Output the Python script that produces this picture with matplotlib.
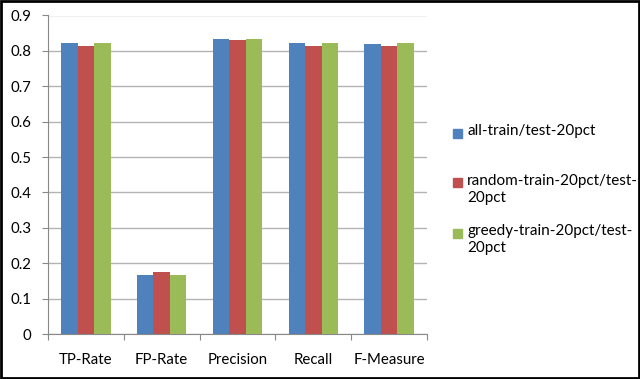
import numpy as np
import matplotlib.pyplot as plt
from matplotlib.patches import Rectangle

plt.rcParams["font.family"] = ["Lato", "DejaVu Sans"]
plt.rcParams["font.size"] = 10.8

# data
categories = ["TP-Rate", "FP-Rate", "Precision", "Recall", "F-Measure"]
series_names = ["all-train/test-20pct",
                "random-train-20pct/test-\n20pct",
                "greedy-train-20pct/test-\n20pct"]
all_train = [0.822, 0.166, 0.834, 0.822, 0.819]
random_train = [0.815, 0.175, 0.830, 0.815, 0.814]
greedy_train = [0.822, 0.166, 0.834, 0.822, 0.822]
colors = ["#4f81bd", "#c0504d", "#9bbb59"]
yticks = [0, 0.1, 0.2, 0.3, 0.4, 0.5, 0.6, 0.7, 0.8, 0.9]

W, H = 640, 379
fig = plt.figure(figsize=(W/100, H/100), dpi=100)
ax = fig.add_axes([48/W, 1 - 334/H, (427-48)/W, (334-15.5)/H])

x = np.arange(len(categories))
w = 0.217
for i, vals in enumerate([all_train, random_train, greedy_train]):
    ax.bar(x + (i - 1) * w, vals, width=w, color=colors[i], zorder=3)

ax.set_xlim(-0.5, len(categories) - 0.5)
ax.set_ylim(0, 0.9)
ax.set_yticks(yticks)
ax.set_yticklabels(["0" if v == 0 else f"{v:.1f}" for v in yticks])
ax.yaxis.grid(True, color="#b3b3b3", linewidth=1, zorder=0)

# category labels in the middle, tick marks on the boundaries
ax.set_xticks(np.arange(len(categories) + 1) - 0.5)
ax.set_xticklabels([])
ax.set_xticks(x, minor=True)
ax.set_xticklabels(categories, minor=True)
ax.tick_params(axis="x", which="minor", length=0, pad=13.5)
ax.tick_params(axis="x", which="major", length=4, color="#888888")
ax.tick_params(axis="y", length=4, color="#888888", pad=8)

for s in ["top", "right"]:
    ax.spines[s].set_visible(False)
for s in ["left", "bottom"]:
    ax.spines[s].set_color("#888888")

# legend like excel: square on the first line, text wraps below
for i, name in enumerate(series_names):
    yc = 133 + 50 * i
    fig.patches.append(Rectangle((453/W, 1 - (yc + 4.5)/H), 9/W, 9/H,
                                 transform=fig.transFigure, color=colors[i]))
    fig.text(467/W, 1 - (yc - 9)/H, name, ha="left", va="top",
             fontsize=11, linespacing=1.3)

# outer frame
fig.patches.append(Rectangle((0.002, 0.003), 0.996, 0.994, transform=fig.transFigure,
                             fill=False, edgecolor="black", linewidth=2))

fig.savefig("out.png", dpi=100)
